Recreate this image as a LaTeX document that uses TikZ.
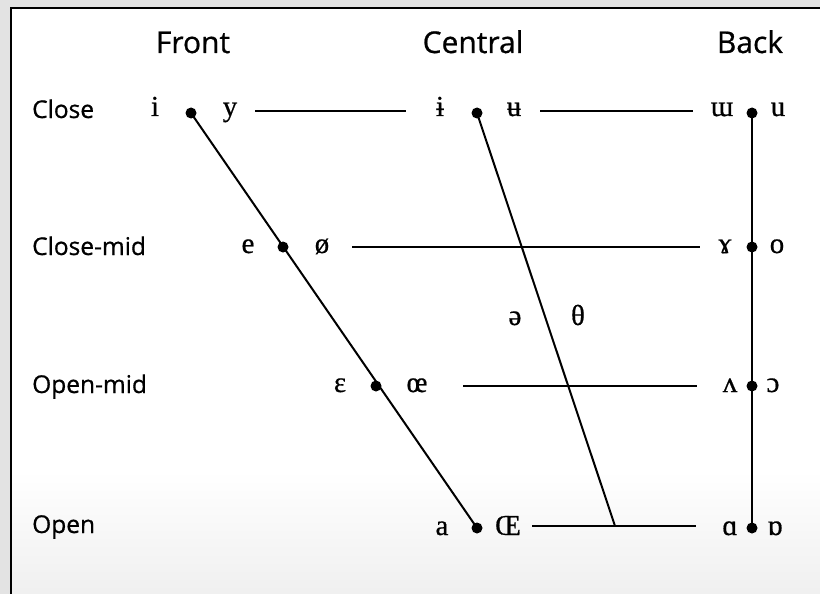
\documentclass[tikz,border=0pt]{standalone}
\usepackage{fontspec}
\setmainfont{Liberation Serif}
\newfontfamily\labfont[FakeBold=0.7]{Open Sans}
\newfontfamily\ipafont[FakeBold=0.6]{Liberation Serif}
\begin{document}
\begin{tikzpicture}[x=1pt,y=-1pt,
  dot/.style={circle,fill=black,inner sep=0pt,minimum size=11pt},
  ipa/.style={font=\ipafont\fontsize{29}{29}\selectfont,inner sep=0pt,anchor=base},
  head/.style={font=\labfont\fontsize{30}{30}\selectfont,inner sep=0pt,anchor=base},
  rowlab/.style={font=\labfont\fontsize{24.5}{24.5}\selectfont,inner sep=0pt,anchor=base west},
  conn/.style={line width=2pt}]
\useasboundingbox (0,0) rectangle (820,594);
\fill[gray!22] (0,0) rectangle (820,594);
\fill[white] (11,8) rectangle (820,594);
\shade[top color=white,bottom color=gray!12] (11,470) rectangle (820,594);
\draw[line width=2.5pt] (11,594) -- (11,8) -- (820,8);

% headers
\node[head] (front) at (193,53) {Front};
\node[head] (central) at (473,53) {Central};
\node[head] (back) at (750,53) {Back};

% row labels
\node[rowlab] (close) at (32,118) {Close};
\node[rowlab] (closemid) at (32,255) {Close-mid};
\node[rowlab] (openmid) at (32,393) {Open-mid};
\node[rowlab] (open) at (32,533) {Open};

% dots
\node[dot] (d1) at (191,113) {};
\node[dot] (d2) at (283,247) {};
\node[dot] (d3) at (376,386) {};
\node[dot] (d4) at (477,528) {};
\node[dot] (c1) at (477,113) {};
\node[dot] (b1) at (752,113) {};
\node[dot] (b2) at (752,247) {};
\node[dot] (b3) at (752,386) {};
\node[dot] (b4) at (752,528) {};

% vowel symbols
\node[ipa] (i) at (155,116) {i};
\node[ipa] (y) at (230,116) {y};
\node[ipa] (ibar) at (440,116) {ɨ};
\node[ipa] (ubar) at (514,116) {ʉ};
\node[ipa] (ɯ) at (722,116) {ɯ};
\node[ipa] (u) at (778,116) {u};
\node[ipa] (e) at (248,253) {e};
\node[ipa] (oslash) at (322,253) {ø};
\node[ipa] (gamma) at (725,253) {ɤ};
\node[ipa] (o) at (777,253) {o};
\node[ipa] (schwa) at (515,325) {ə};
\node[ipa] (theta) at (578,325) {θ};
\node[ipa] (eps) at (340,392) {ɛ};
\node[ipa] (oe) at (417,392) {œ};
\node[ipa] (wedge) at (730,392) {ʌ};
\node[ipa] (oo) at (773,392) {ɔ};
\node[ipa] (a) at (442,535) {a};
\node[ipa] (OE) at (508,535) {Œ};
\node[ipa] (alpha) at (730,535) {ɑ};
\node[ipa] (turna) at (775,535) {ɒ};

% line end points
\coordinate (h1a) at (255,111);
\coordinate (h1b) at (406,111);
\coordinate (h1c) at (540,111);
\coordinate (h1d) at (693,111);
\coordinate (h2a) at (352,247);
\coordinate (h2b) at (700,247);
\coordinate (h3a) at (463,386);
\coordinate (h3b) at (697,386);
\coordinate (h4a) at (532,526);
\coordinate (h4b) at (696,526);
\coordinate (cm) at (615,526);

% connectors
\draw[conn] (d1.center) -- (d4.center);
\draw[conn] (c1.center) -- (cm);
\draw[conn] (b1.center) -- (b4.center);
\draw[conn] (h1a) -- (h1b);
\draw[conn] (h1c) -- (h1d);
\draw[conn] (h2a) -- (h2b);
\draw[conn] (h3a) -- (h3b);
\draw[conn] (h4a) -- (h4b);
\end{tikzpicture}
\end{document}
